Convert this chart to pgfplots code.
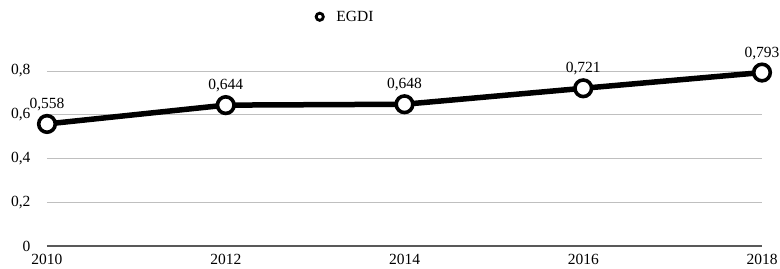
\documentclass[border=0pt]{standalone}
\usepackage{fontspec}
\setmainfont{Liberation Serif}
\usepackage{pgfplots}
\pgfplotsset{compat=1.18}
\begin{document}
\begin{tikzpicture}
\begin{axis}[
  scale only axis,
  width=715bp, height=175bp,
  xmin=2010, xmax=2018, ymin=0, ymax=0.8,
  clip=false,
  axis y line*=left, axis x line*=bottom,
  y axis line style={draw=none},
  x axis line style={draw=black!65, line width=1.3bp},
  xtick={2010,2012,2014,2016,2018},
  ytick={0,0.2,0.4,0.6,0.8},
  yticklabels={0,{0,2},{0,4},{0,6},{0,8}},
  xticklabels={2010,2012,2014,2016,2018},
  major tick length=0pt,
  ymajorgrids,
  grid style={draw=black!25, line width=1bp},
  tick label style={font=\fontsize{15.5bp}{17bp}\selectfont},
  xticklabel style={yshift=-5bp},
  yticklabel style={xshift=-13bp},
  legend style={draw=none, fill=none, at={(0.37,1.31)}, anchor=west,
     font=\fontsize{15.5bp}{17bp}\selectfont},
  legend image code/.code={\path[draw=none] (0,0) -- (0.62cm,0);\draw[black, line width=2.8bp, fill=white] (0.1cm,0) circle (3.6bp);},
]
\addplot[black, line width=5.5bp, mark=*, mark size=8.3bp,
  mark options={fill=white, draw=black, line width=3.6bp},
  nodes near coords, point meta=explicit symbolic,
  every node near coord/.style={font=\fontsize{15.5bp}{17bp}\selectfont, black, yshift=8bp}]
  table[meta=lab] {
  x y lab
  2010 0.558 {0,558}
  2012 0.644 {0,644}
  2014 0.648 {0,648}
  2016 0.721 {0,721}
  2018 0.793 {0,793}
  };
\addlegendentry{EGDI}
\end{axis}
\pgfresetboundingbox
\useasboundingbox (-47bp,-23bp) rectangle (733bp,246bp);
\end{tikzpicture}
\end{document}
